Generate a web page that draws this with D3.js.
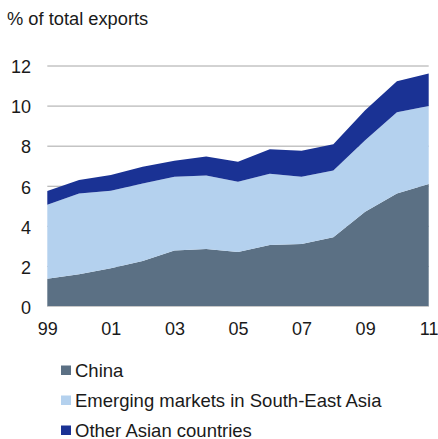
<!DOCTYPE html>
<html><head><meta charset="utf-8">
<script src="https://cdn.jsdelivr.net/npm/d3@7"></script>
<style>body{margin:0;background:#fff;} text{font-family:"Liberation Sans",Arial,sans-serif;fill:#1a1a1a;}</style>
</head><body>
<svg id="c" width="438" height="439"></svg>
<script>
const years = [1999,2000,2001,2002,2003,2004,2005,2006,2007,2008,2009,2010,2011];
const china = [1.38,1.61,1.91,2.27,2.79,2.87,2.72,3.07,3.12,3.45,4.73,5.64,6.11];
const emerging = [3.70,4.03,3.87,3.87,3.68,3.67,3.50,3.55,3.35,3.34,3.57,4.05,3.90];
const other = [0.68,0.67,0.78,0.83,0.80,0.95,1.00,1.23,1.30,1.31,1.49,1.55,1.62];
const seriesNames = ["China","Emerging markets in South-East Asia","Other Asian countries"];
const colors = ["#5b7084","#b4d1ee","#1a3294"];
const yTicks = [0,2,4,6,8,10,12];
const xTickYears = [1999,2001,2003,2005,2007,2009,2011];

const svg = d3.select("#c");
const x = d3.scaleLinear().domain([1999,2011]).range([47.3,428.7]);
const y = d3.scaleLinear().domain([0,12]).range([306.5,66]);

svg.append("text").attr("x",7).attr("y",25).attr("font-size",18.3).text("% of total exports");

// gridlines
svg.append("g").selectAll("line").data(yTicks.filter(d=>d>0)).join("line")
  .attr("x1",x(1999)).attr("x2",x(2011)).attr("y1",d=>y(d)).attr("y2",d=>y(d))
  .attr("stroke","#a6a6a6").attr("stroke-width",1);

const table = years.map((yr,i)=>({year:yr,c:china[i],e:emerging[i],o:other[i]}));
const stack = d3.stack().keys(["c","e","o"])(table);
const area = d3.area().x(d=>x(d.data.year)).y0(d=>y(d[0])).y1(d=>y(d[1]));
svg.append("g").selectAll("path").data(stack).join("path")
  .attr("d",area).attr("fill",(d,i)=>colors[i]);

// baseline
svg.append("line").attr("x1",x(1999)).attr("x2",x(2011)).attr("y1",y(0)).attr("y2",y(0)).attr("stroke","#c8c8c8");

// y labels
const yAxis = d3.axisLeft(y).tickValues(yTicks).tickSize(0).tickPadding(0).tickFormat(d3.format("d"));
const gy = svg.append("g").attr("transform","translate(31,1)").call(yAxis);
gy.select(".domain").remove();
gy.selectAll("text").attr("font-size",18).attr("font-family","Liberation Sans, Arial, sans-serif").attr("fill","#1a1a1a");

// x labels
const xAxis = d3.axisBottom(x).tickValues(xTickYears).tickSize(0).tickPadding(0).tickFormat(d=>String(d%100).padStart(2,"0"));
const gx = svg.append("g").attr("transform","translate(0,322)").call(xAxis);
gx.select(".domain").remove();
gx.selectAll("text").attr("font-size",18).attr("font-family","Liberation Sans, Arial, sans-serif").attr("fill","#1a1a1a");

// legend
const lg = svg.append("g").selectAll("g").data(seriesNames).join("g")
  .attr("transform",(d,i)=>`translate(61,${370+i*30})`);
lg.append("rect").attr("x",0).attr("y",-4.5).attr("width",10).attr("height",9.5).attr("fill",(d,i)=>colors[i]);
lg.append("text").attr("x",14).attr("y",6.5).attr("font-size",18.5).text(d=>d);
</script>
</body></html>
